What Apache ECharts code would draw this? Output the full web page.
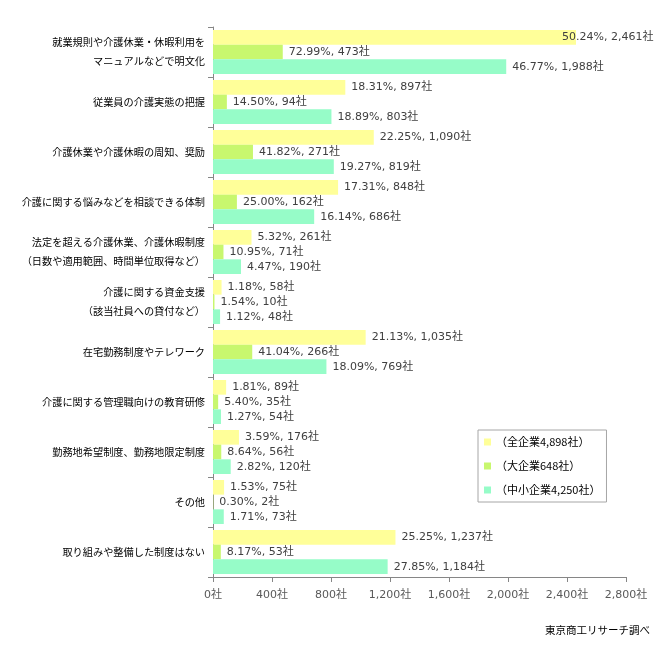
<!DOCTYPE html>
<html><head><meta charset="utf-8">
<script src="https://cdn.jsdelivr.net/npm/echarts@6/dist/echarts.min.js"></script>
<style>html,body{margin:0;padding:0;background:#fff}#c{width:667px;height:645px}</style>
</head><body><div id="c"></div>
<script>
var categories = [
  '就業規則や介護休業・休暇利用を\nマニュアルなどで明文化',
  '従業員の介護実態の把握',
  '介護休業や介護休暇の周知、奨励',
  '介護に関する悩みなどを相談できる体制',
  '法定を超える介護休業、介護休暇制度\n（日数や適用範囲、時間単位取得など）',
  '介護に関する資金支援\n（該当社員への貸付など）',
  '在宅勤務制度やテレワーク',
  '介護に関する管理職向けの教育研修',
  '勤務地希望制度、勤務地限定制度',
  'その他',
  '取り組みや整備した制度はない'
];
var seriesNames = ['（全企業4,898社）', '（大企業648社）', '（中小企業4,250社）'];
var allCount = [2461, 897, 1090, 848, 261, 58, 1035, 89, 176, 75, 1237];
var allPct = [50.24, 18.31, 22.25, 17.31, 5.32, 1.18, 21.13, 1.81, 3.59, 1.53, 25.25];
var largeCount = [473, 94, 271, 162, 71, 10, 266, 35, 56, 2, 53];
var largePct = [72.99, 14.50, 41.82, 25.00, 10.95, 1.54, 41.04, 5.40, 8.64, 0.30, 8.17];
var smeCount = [1988, 803, 819, 686, 190, 48, 769, 54, 120, 73, 1184];
var smePct = [46.77, 18.89, 19.27, 16.14, 4.47, 1.12, 18.09, 1.27, 2.82, 1.71, 27.85];
var xTicks = {min: 0, max: 2800, interval: 400};
var sourceText = '東京商工リサーチ調べ';

var colors = ['#ffff99', '#c8f76e', '#96fcc8'];
var counts = [allCount, largeCount, smeCount];
var pcts = [allPct, largePct, smePct];
function fmt(n){ return n.toString().replace(/\B(?=(\d{3})+(?!\d))/g, ','); }
var fontFam = 'DejaVu Sans, "Noto Sans CJK JP", sans-serif';

var series = seriesNames.map(function(name, s){
  return {
    name: name, type: 'bar', barGap: '0%', barCategoryGap: '12%',
    itemStyle: {color: colors[s]},
    data: counts[s].map(function(v, i){
      var d = {value: v};
      if (v / xTicks.max > 0.8) { d.label = {offset: [-20, 0]}; }
      return d;
    }),
    label: {
      show: true, position: 'right', distance: 6,
      color: '#404040', fontSize: 11, fontFamily: fontFam,
      formatter: function(p){ return pcts[s][p.dataIndex].toFixed(2) + '%, ' + fmt(counts[s][p.dataIndex]) + '社'; }
    }
  };
});

var chart = echarts.init(document.getElementById('c'), null, {renderer: 'canvas'});
chart.setOption({
  animation: false,
  textStyle: {fontFamily: fontFam},
  grid: {left: 213, right: 41, top: 27, bottom: 68, containLabel: false},
  xAxis: {
    type: 'value', min: xTicks.min, max: xTicks.max, interval: xTicks.interval,
    splitLine: {show: false},
    axisLine: {show: true, lineStyle: {color: '#868686'}},
    axisTick: {show: true, length: 5, lineStyle: {color: '#868686'}},
    axisLabel: {color: '#595959', fontSize: 11, margin: 13, fontFamily: fontFam,
      formatter: function(v){ return fmt(v) + '社'; }}
  },
  yAxis: {
    type: 'category', inverse: true, data: categories,
    axisLine: {show: true, lineStyle: {color: '#868686'}},
    axisTick: {show: true, length: 5, inside: false, alignWithLabel: false, lineStyle: {color: '#868686'}},
    axisLabel: {color: '#000', fontSize: 10.2, margin: 8, lineHeight: 19, fontFamily: '"Noto Sans CJK JP", sans-serif'}
  },
  legend: {
    orient: 'vertical', left: 478, top: 430,
    padding: [6, 6, 6, 6],
    borderColor: '#a6a6a6', borderWidth: 1, backgroundColor: '#fff',
    itemWidth: 7, itemHeight: 7, itemGap: 12,
    icon: 'rect',
    textStyle: {color: '#000', fontSize: 11, fontFamily: '"Noto Sans CJK JP", sans-serif', lineHeight: 12},
    data: seriesNames
  },
  graphic: [{
    type: 'text', right: 17, top: 625,
    style: {text: sourceText, fill: '#000', font: '10.5px "Noto Sans CJK JP", sans-serif'}
  }],
  series: series
});
</script>
</body></html>
